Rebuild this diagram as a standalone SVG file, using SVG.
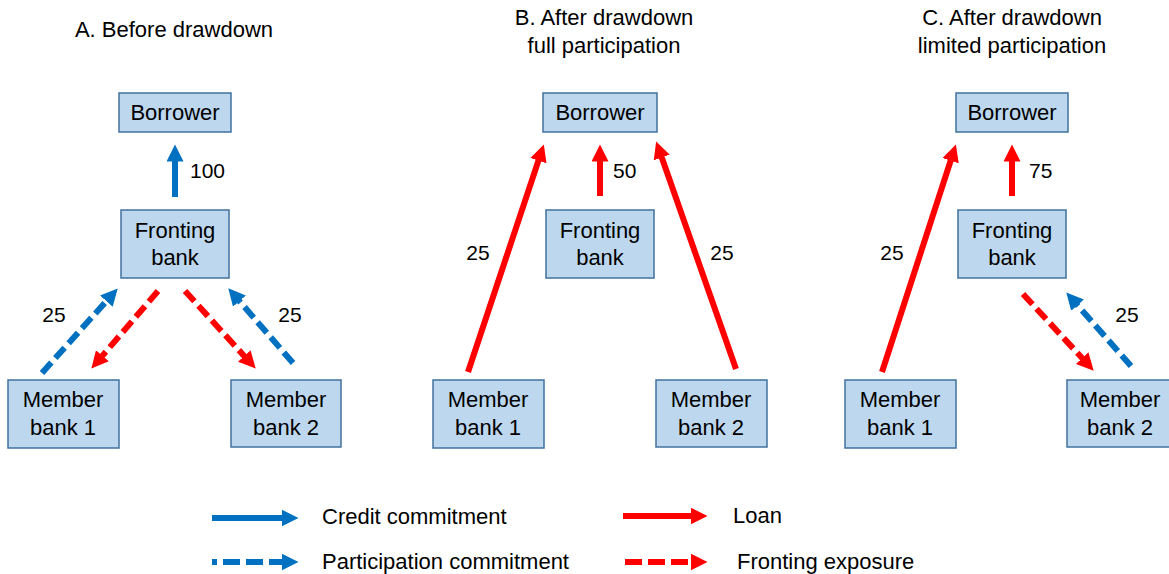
<svg xmlns="http://www.w3.org/2000/svg" width="1169" height="574" viewBox="0 0 1169 574">
<style>
text{font-family:"Liberation Sans",Arial,sans-serif;font-size:22px;fill:#000}
.t{text-anchor:middle}
.n{font-size:21px}
.box{fill:#BDD7EE;stroke:#41719C;stroke-width:1.5}
.b{stroke:#0070C0;stroke-width:6;fill:none}
.r{stroke:#FF0000;stroke-width:6;fill:none}
.d{stroke-dasharray:14 6}
</style>
<defs>
<marker id="ab" markerUnits="userSpaceOnUse" markerWidth="19" markerHeight="19" refX="0.5" refY="8.5" orient="auto"><path d="M0,0 L17,8.5 L0,17 z" fill="#0070C0"/></marker>
<marker id="ar" markerUnits="userSpaceOnUse" markerWidth="19" markerHeight="19" refX="0.5" refY="8.5" orient="auto"><path d="M0,0 L17,8.5 L0,17 z" fill="#FF0000"/></marker>
</defs>
<g id="titles">
<text class="t" x="174" y="37">A. Before drawdown</text>
<text class="t" x="604" y="25">B. After drawdown</text>
<text class="t" x="604" y="53">full participation</text>
<text class="t" x="1012" y="25">C. After drawdown</text>
<text class="t" x="1012" y="53">limited participation</text>
</g>
<g id="A-borrower"><rect class="box" x="119" y="93" width="112" height="39"/><text class="t" x="175" y="120">Borrower</text></g>
<g id="A-fronting"><rect class="box" x="121" y="210" width="108" height="68"/><text class="t" x="175" y="238">Fronting</text><text class="t" x="175" y="265">bank</text></g>
<g id="A-member1"><rect class="box" x="8" y="380" width="111" height="68"/><text class="t" x="63" y="407">Member</text><text class="t" x="63" y="435">bank 1</text></g>
<g id="A-member2"><rect class="box" x="231" y="380" width="110" height="67"/><text class="t" x="286" y="407">Member</text><text class="t" x="286" y="435">bank 2</text></g>
<g id="B-borrower"><rect class="box" x="543" y="93" width="114" height="39"/><text class="t" x="600" y="120">Borrower</text></g>
<g id="B-fronting"><rect class="box" x="546" y="210" width="108" height="68"/><text class="t" x="600" y="238">Fronting</text><text class="t" x="600" y="265">bank</text></g>
<g id="B-member1"><rect class="box" x="433" y="380" width="111" height="68"/><text class="t" x="488" y="407">Member</text><text class="t" x="488" y="435">bank 1</text></g>
<g id="B-member2"><rect class="box" x="656" y="380" width="111" height="67"/><text class="t" x="711" y="407">Member</text><text class="t" x="711" y="435">bank 2</text></g>
<g id="C-borrower"><rect class="box" x="956" y="93" width="112" height="39"/><text class="t" x="1012" y="120">Borrower</text></g>
<g id="C-fronting"><rect class="box" x="958" y="210" width="108" height="68"/><text class="t" x="1012" y="238">Fronting</text><text class="t" x="1012" y="265">bank</text></g>
<g id="C-member1"><rect class="box" x="845" y="380" width="111" height="68"/><text class="t" x="900" y="407">Member</text><text class="t" x="900" y="435">bank 1</text></g>
<g id="C-member2"><rect class="box" x="1067" y="380" width="111" height="67"/><text class="t" x="1120" y="407">Member</text><text class="t" x="1120" y="435">bank 2</text></g>
<g id="connectors">
<line class="b" x1="175" y1="197" x2="175" y2="161" marker-end="url(#ab)"/>
<line class="b d" x1="42" y1="373" x2="106.7" y2="300.7" marker-end="url(#ab)"/>
<line class="r d" x1="158" y1="291" x2="102.1" y2="356.1" marker-end="url(#ar)"/>
<line class="r d" x1="185" y1="291" x2="244.6" y2="356.4" marker-end="url(#ar)"/>
<line class="b d" x1="293" y1="363" x2="239.1" y2="300.8" marker-end="url(#ab)"/>
<line class="r" x1="600" y1="196" x2="600" y2="161" marker-end="url(#ar)"/>
<line class="r" x1="468" y1="372" x2="538.6" y2="160.1" marker-end="url(#ar)"/>
<line class="r" x1="736" y1="369" x2="661.6" y2="157" marker-end="url(#ar)"/>
<line class="r" x1="1012" y1="196" x2="1012" y2="161" marker-end="url(#ar)"/>
<line class="r" x1="882" y1="372" x2="950.8" y2="160.2" marker-end="url(#ar)"/>
<line class="r d" x1="1023" y1="294" x2="1082.5" y2="358.5" marker-end="url(#ar)"/>
<line class="b d" x1="1131" y1="366" x2="1077.2" y2="304.8" marker-end="url(#ab)"/>
</g>
<g id="labels">
<text class="n" x="190" y="178">100</text>
<text class="n t" x="54" y="322">25</text>
<text class="n t" x="290" y="322">25</text>
<text class="n" x="613" y="178">50</text>
<text class="n t" x="478" y="260">25</text>
<text class="n t" x="722" y="260">25</text>
<text class="n" x="1029" y="178">75</text>
<text class="n t" x="892" y="260">25</text>
<text class="n t" x="1127" y="322">25</text>
</g>
<g id="legend">
<line class="b" x1="212" y1="518" x2="282" y2="518" marker-end="url(#ab)"/>
<text x="322" y="524">Credit commitment</text>
<line class="r" x1="623" y1="516" x2="691" y2="516" marker-end="url(#ar)"/>
<text x="733" y="523">Loan</text>
<line class="b" x1="212" y1="562" x2="282" y2="562" stroke-dasharray="17 6" stroke-dashoffset="12" marker-end="url(#ab)"/>
<text x="322" y="569">Participation commitment</text>
<line class="r" x1="625" y1="562" x2="691" y2="562" stroke-dasharray="17 6" marker-end="url(#ar)"/>
<text x="737" y="569">Fronting exposure</text>
</g>
</svg>
